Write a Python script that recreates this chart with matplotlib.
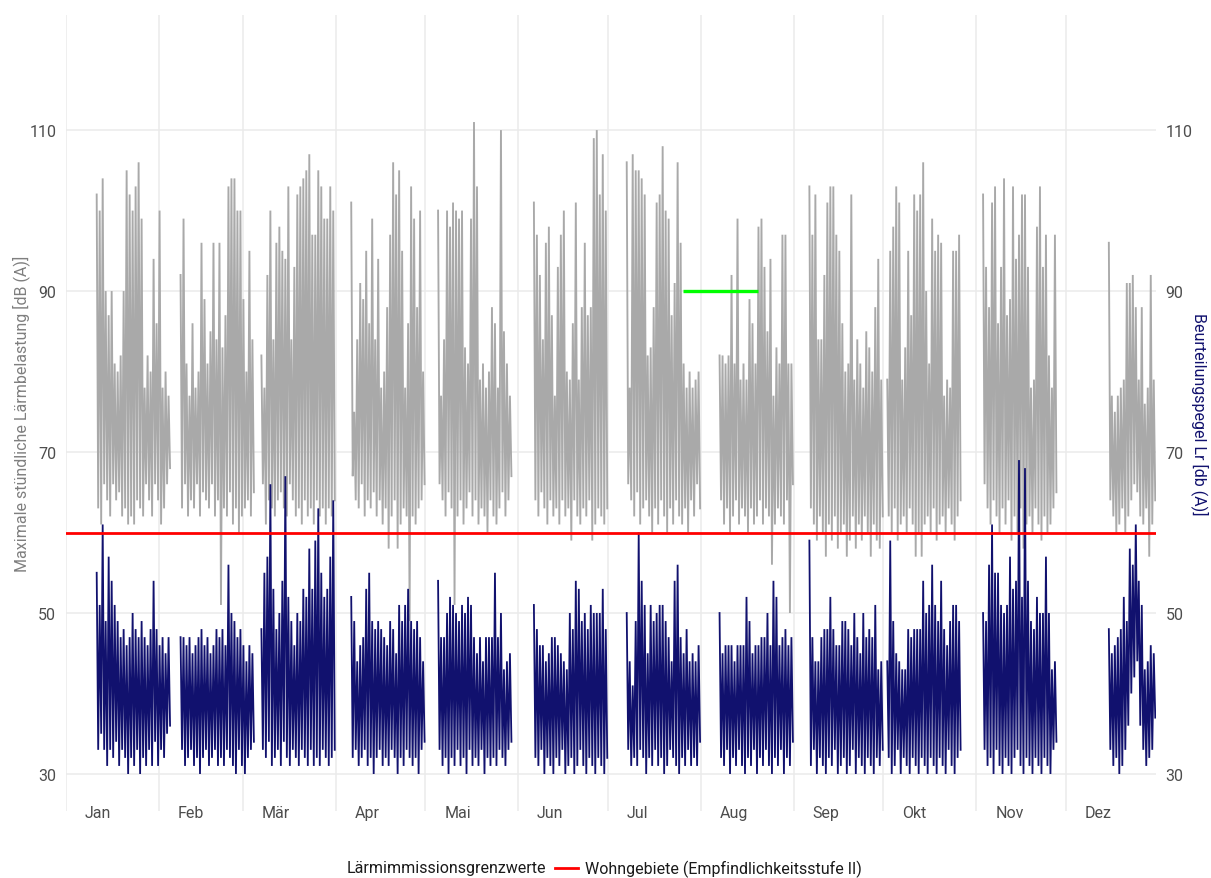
import numpy as np
import pandas as pd
import matplotlib
matplotlib.use("Agg")
import matplotlib.pyplot as plt
import matplotlib.dates as mdates
from matplotlib.lines import Line2D

plt.rcParams['font.family'] = ['Roboto', 'DejaVu Sans']

# ---------------- data (daily envelope of the hourly series) ----------------
seg_starts = ["2021-01-11", "2021-02-08", "2021-03-07", "2021-04-06", "2021-05-05", "2021-06-06",
              "2021-07-07", "2021-08-07", "2021-09-06", "2021-10-02", "2021-11-03", "2021-12-15"]

gmax1 = [102, 100, 104, 90, 87, 90, 81, 80, 82, 90, 105, 102, 100, 103, 106, 99, 78, 82, 80, 94, 86, 100, 78, 80, 77]
gmin1 = [63, 61, 66, 64, 62, 66, 64, 65, 62, 63, 61, 62, 61, 64, 63, 62, 66, 64, 62, 66, 64, 61, 63, 66, 68]
bmax1 = [55, 51, 61, 49, 57, 54, 51, 49, 47, 48, 46, 47, 50, 48, 47, 49, 47, 46, 48, 54, 48, 46, 47, 45, 47]
bmin1 = [33, 35, 33, 31, 33, 32, 34, 31, 33, 32, 30, 32, 31, 33, 30, 32, 31, 33, 31, 34, 31, 33, 32, 35, 36]

gmax2 = [92, 99, 81, 77, 86, 78, 80, 96, 89, 81, 85, 96, 84, 96, 83, 87, 103, 104, 104, 100, 100, 89, 80, 95, 84]
gmin2 = [63, 66, 62, 64, 63, 66, 62, 65, 64, 63, 66, 62, 64, 51, 63, 62, 65, 61, 63, 60, 62, 63, 64, 62, 65]
bmax2 = [47, 47, 46, 47, 45, 46, 47, 48, 46, 47, 45, 46, 48, 47, 48, 46, 56, 50, 49, 47, 48, 46, 44, 46, 45]
bmin2 = [33, 31, 32, 33, 31, 32, 30, 32, 33, 31, 32, 33, 31, 32, 31, 33, 32, 31, 30, 33, 31, 30, 32, 33, 34]

gmax3 = [82, 78, 92, 100, 84, 96, 98, 95, 94, 103, 84, 93, 102, 103, 104, 105, 107, 97, 97, 105, 103, 99, 99, 103, 100]
gmin3 = [66, 61, 64, 63, 62, 64, 65, 63, 62, 66, 64, 62, 63, 61, 64, 62, 63, 61, 64, 62, 63, 61, 63, 62, 64]
bmax3 = [48, 55, 57, 66, 53, 48, 50, 54, 67, 52, 49, 46, 50, 49, 53, 52, 58, 53, 59, 63, 55, 52, 53, 57, 64]
bmin3 = [33, 32, 34, 31, 32, 33, 31, 34, 32, 31, 33, 32, 31, 33, 32, 31, 33, 31, 32, 31, 33, 32, 31, 32, 33]

gmax4 = [101, 75, 84, 91, 89, 95, 86, 99, 84, 94, 78, 80, 88, 97, 106, 102, 105, 95, 78, 86, 103, 99, 88, 100, 80]
gmin4 = [67, 64, 63, 66, 62, 64, 63, 65, 62, 64, 61, 63, 58, 62, 64, 58, 61, 63, 62, 49, 62, 61, 63, 64, 66]
bmax4 = [52, 49, 44, 46, 47, 53, 55, 49, 48, 49, 48, 47, 46, 49, 48, 45, 51, 49, 51, 53, 49, 48, 49, 47, 44]
bmin4 = [32, 33, 31, 32, 33, 31, 32, 30, 32, 33, 31, 32, 31, 33, 32, 30, 32, 31, 33, 32, 31, 32, 30, 33, 34]

gmax5 = [100, 77, 84, 100, 98, 101, 100, 99, 100, 83, 81, 99, 111, 103, 79, 81, 78, 80, 88, 86, 78, 110, 85, 81, 77]
gmin5 = [66, 64, 62, 65, 63, 51, 62, 64, 61, 63, 65, 62, 64, 61, 63, 62, 60, 64, 62, 61, 63, 65, 62, 64, 67]
bmax5 = [54, 47, 47, 50, 52, 51, 50, 49, 51, 50, 52, 51, 47, 45, 47, 44, 47, 47, 47, 55, 47, 50, 43, 44, 45]
bmin5 = [33, 31, 32, 30, 32, 31, 33, 31, 32, 30, 33, 31, 32, 31, 33, 30, 32, 31, 32, 31, 33, 32, 31, 33, 34]

gmax6 = [101, 97, 92, 84, 96, 98, 87, 77, 93, 97, 100, 80, 79, 86, 101, 79, 88, 96, 87, 88, 109, 110, 102, 107, 100]
gmin6 = [64, 62, 65, 63, 61, 64, 62, 63, 61, 64, 62, 63, 59, 64, 62, 61, 63, 62, 64, 59, 61, 63, 62, 61, 63]
bmax6 = [51, 48, 46, 46, 44, 45, 47, 47, 46, 45, 44, 43, 50, 48, 54, 53, 49, 50, 48, 51, 50, 50, 50, 53, 48]
bmin6 = [32, 31, 33, 30, 32, 31, 30, 32, 31, 33, 30, 31, 32, 30, 31, 33, 31, 30, 32, 31, 30, 32, 31, 30, 32]

gmax7 = [106, 78, 107, 105, 105, 104, 102, 82, 83, 88, 101, 102, 108, 100, 99, 87, 91, 106, 96, 81, 78, 80, 78, 79, 80]
gmin7 = [66, 64, 62, 65, 61, 63, 64, 62, 60, 63, 61, 64, 62, 60, 63, 61, 64, 62, 61, 63, 60, 64, 62, 66, 63]
bmax7 = [50, 44, 41, 49, 60, 54, 51, 45, 51, 49, 50, 51, 51, 49, 47, 44, 54, 56, 47, 45, 48, 44, 45, 44, 46]
bmin7 = [33, 31, 32, 31, 33, 32, 30, 32, 31, 33, 31, 32, 30, 31, 33, 32, 31, 30, 32, 31, 33, 31, 32, 31, 34]

gmax8 = [82, 82, 81, 82, 92, 81, 99, 79, 81, 79, 89, 86, 81, 98, 99, 93, 85, 94, 77, 83, 81, 97, 97, 81, 81]
gmin8 = [64, 61, 63, 60, 62, 64, 61, 63, 62, 60, 63, 61, 62, 64, 61, 63, 62, 56, 61, 63, 62, 61, 64, 50, 66]
bmax8 = [50, 45, 46, 46, 46, 44, 46, 46, 46, 52, 49, 45, 46, 46, 47, 47, 50, 46, 54, 52, 46, 47, 48, 46, 47]
bmin8 = [32, 31, 33, 30, 32, 31, 33, 31, 30, 32, 31, 33, 30, 32, 31, 33, 31, 30, 32, 31, 33, 30, 32, 31, 34]

gmax9 = [103, 97, 102, 84, 84, 92, 101, 103, 103, 97, 95, 86, 80, 81, 102, 79, 84, 81, 78, 85, 83, 80, 88, 94, 79]
gmin9 = [63, 61, 59, 62, 60, 57, 61, 59, 62, 58, 60, 61, 57, 59, 62, 58, 61, 59, 62, 60, 57, 61, 59, 58, 62]
bmax9 = [59, 47, 44, 44, 47, 48, 48, 52, 48, 46, 46, 49, 49, 48, 46, 50, 47, 45, 50, 47, 48, 47, 51, 43, 44]
bmin9 = [31, 33, 30, 32, 31, 30, 32, 31, 33, 30, 31, 32, 30, 31, 33, 30, 32, 31, 30, 32, 31, 30, 32, 31, 33]

gmax10 = [79, 95, 98, 103, 101, 79, 83, 95, 87, 102, 100, 102, 106, 90, 81, 99, 95, 97, 96, 77, 79, 78, 95, 95, 97]
gmin10 = [62, 60, 63, 59, 61, 62, 60, 63, 61, 57, 60, 57, 61, 62, 60, 63, 59, 61, 62, 60, 63, 61, 59, 62, 64]
bmax10 = [44, 59, 49, 45, 44, 43, 43, 48, 47, 48, 48, 48, 54, 50, 51, 56, 51, 49, 54, 48, 46, 49, 51, 51, 49]
bmin10 = [32, 30, 31, 33, 30, 32, 31, 30, 32, 31, 30, 32, 31, 30, 32, 31, 30, 32, 31, 30, 33, 31, 30, 32, 33]

gmax11 = [102, 93, 88, 101, 103, 86, 93, 104, 87, 89, 103, 94, 97, 102, 102, 93, 78, 79, 98, 103, 93, 97, 82, 78, 97]
gmin11 = [66, 63, 61, 64, 62, 60, 63, 61, 64, 59, 62, 60, 63, 58, 61, 62, 60, 63, 61, 59, 62, 60, 61, 63, 65]
bmax11 = [50, 49, 56, 61, 55, 55, 51, 50, 51, 57, 53, 54, 69, 52, 68, 54, 49, 48, 52, 50, 50, 57, 50, 43, 44]
bmin11 = [33, 31, 32, 30, 33, 31, 30, 32, 31, 30, 32, 33, 31, 30, 32, 31, 30, 32, 31, 30, 32, 31, 30, 33, 34]

gmax12 = [96, 77, 75, 77, 78, 79, 91, 91, 92, 88, 79, 88, 76, 78, 92, 79]
gmin12 = [64, 62, 60, 61, 63, 60, 62, 64, 66, 65, 62, 61, 63, 57, 61, 64]
bmax12 = [48, 45, 46, 47, 48, 52, 49, 58, 56, 61, 54, 51, 43, 44, 46, 45]
bmin12 = [33, 31, 32, 30, 31, 33, 36, 40, 42, 44, 36, 33, 31, 32, 33, 37]

grey_max = [gmax1, gmax2, gmax3, gmax4, gmax5, gmax6, gmax7, gmax8, gmax9, gmax10, gmax11, gmax12]
grey_min = [gmin1, gmin2, gmin3, gmin4, gmin5, gmin6, gmin7, gmin8, gmin9, gmin10, gmin11, gmin12]
blue_max = [bmax1, bmax2, bmax3, bmax4, bmax5, bmax6, bmax7, bmax8, bmax9, bmax10, bmax11, bmax12]
blue_min = [bmin1, bmin2, bmin3, bmin4, bmin5, bmin6, bmin7, bmin8, bmin9, bmin10, bmin11, bmin12]

limit_value = 60            # Wohngebiete (Empfindlichkeitsstufe II)
green_start, green_end, green_value = "2021-07-26", "2021-08-20", 90

months = ["Jan", "Feb", "Mär", "Apr", "Mai", "Jun", "Jul", "Aug", "Sep", "Okt", "Nov", "Dez"]
yticks = [30, 50, 70, 90, 110]

ylabel_left = "Maximale stündliche Lärmbelastung [dB (A)]"
ylabel_right = "Beurteilungspegel Lr [db (A)]"
legend_title = "Lärmimmissionsgrenzwerte"
legend_label = "Wohngebiete (Empfindlichkeitsstufe II)"

# ---------------- build the series ----------------
def build(highs, lows):
    xs, ys = [], []
    for start, hi, lo in zip(seg_starts, highs, lows):
        t0 = mdates.date2num(pd.Timestamp(start))
        for i, (h, l) in enumerate(zip(hi, lo)):
            xs += [t0 + i + 0.25, t0 + i + 0.75]
            ys += [h, l]
        xs.append(np.nan)
        ys.append(np.nan)
    return np.array(xs), np.array(ys)

gx, gy = build(grey_max, grey_min)
bx, by = build(blue_max, blue_min)

# ---------------- figure ----------------
W, H = 1211, 879
fig = plt.figure(figsize=(W / 100, H / 100), dpi=100)
pl, pr, pt, pb = 66, 1156, 16, 812
ax = fig.add_axes([pl / W, 1 - pb / H, (pr - pl) / W, (pb - pt) / H])

grid_c = "#EBEBEB"
month_starts = [mdates.date2num(pd.Timestamp(2021, m, 1)) for m in range(1, 13)]
for ms in month_starts:
    ax.axvline(ms, color=grid_c, lw=1.1, zorder=0)
for yv in yticks:
    ax.axhline(yv, color=grid_c, lw=1.1, zorder=0)

ax.plot(gx, gy, color="#A9A9A9", lw=1.35, zorder=2, solid_joinstyle="miter")
ax.plot(bx, by, color="#11116E", lw=1.3, zorder=3, solid_joinstyle="miter")
ax.axhline(limit_value, color="#FF0000", lw=2.0, zorder=4)
ax.plot([mdates.date2num(pd.Timestamp(green_start)), mdates.date2num(pd.Timestamp(green_end))],
        [green_value, green_value], color="#00FF00", lw=2.4, zorder=5, solid_capstyle="butt")

ax.set_xlim(mdates.date2num(pd.Timestamp("2021-01-01")), mdates.date2num(pd.Timestamp("2021-12-31")))
ax.set_ylim(25.4, 124.3)
for s in ax.spines.values():
    s.set_visible(False)
ax.set_xticks([])
ax.set_yticks(yticks)
ax.set_yticklabels([str(v) for v in yticks])
ax.tick_params(axis="y", length=0, pad=7, labelsize=11.5, labelcolor="#4D4D4D")

# month labels (left aligned a few days after each month start), common baseline
label_base = -(818 - pb) / (pb - pt)
for ms, lab in zip(month_starts, months):
    ax.text(ms + 6.3, label_base, lab, transform=ax.get_xaxis_transform(), ha="left", va="baseline",
            fontsize=11.5, color="#4D4D4D")

ax2 = ax.twinx()
ax2.set_ylim(ax.get_ylim())
ax2.set_yticks(yticks)
ax2.set_yticklabels([str(v) for v in yticks])
ax2.tick_params(axis="y", length=0, pad=7, labelsize=11.5, labelcolor="#4D4D4D")
for s in ax2.spines.values():
    s.set_visible(False)
ax2.set_position(ax.get_position())

fig.text(21 / W, 1 - 414 / H, ylabel_left, rotation=90, ha="center", va="center",
         fontsize=11.5, color="#7F7F7F")
fig.text(1200 / W, 1 - 414 / H, ylabel_right, rotation=-90, ha="center", va="center",
         fontsize=11.5, color="#11116E")

# legend
ly = 1 - 869 / H
fig.text(546 / W, ly, legend_title, ha="right", va="center", fontsize=11.5, color="#1A1A1A")
fig.add_artist(Line2D([555 / W, 578 / W], [ly, ly], transform=fig.transFigure, color="#FF0000", lw=2.0))
fig.text(585 / W, ly, legend_label, ha="left", va="center", fontsize=11.5, color="#1A1A1A")

fig.savefig("out.png", dpi=100)
